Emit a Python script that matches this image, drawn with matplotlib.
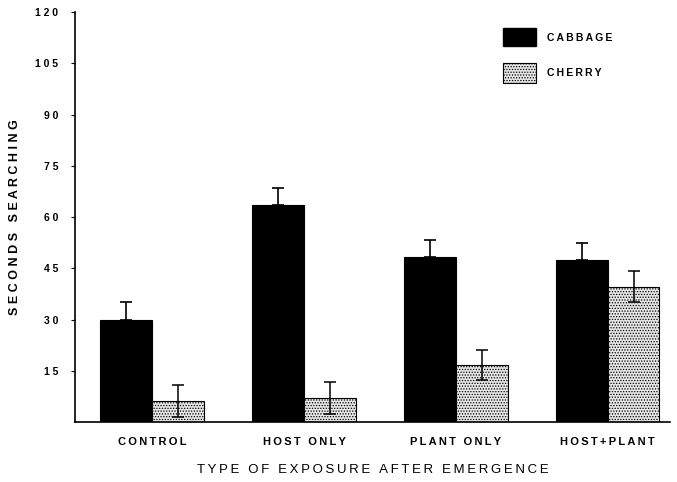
import matplotlib.pyplot as plt
import numpy as np

plt.rcParams['font.family'] = ['Liberation Sans', 'DejaVu Sans']
plt.rcParams['hatch.linewidth'] = 0.6

groups = ["CONTROL", "HOST ONLY", "PLANT ONLY", "HOST+PLANT"]
cabbage = [29.9, 63.5, 48.3, 47.4]
cabbage_err = [5.2, 5.0, 5.0, 5.0]
cherry = [6.2, 7.0, 16.7, 39.6]
cherry_err = [4.7, 4.6, 4.5, 4.6]
yticks = [15, 30, 45, 60, 75, 90, 105, 120]


def spaced(s, sep="\u2009"):
    # widen the letter spacing of a label
    return sep.join(s)


fig = plt.figure(figsize=(6.77, 4.82), dpi=100)
ax = fig.add_axes([0.1108, 0.1245, 0.879, 0.8505])

x = np.arange(len(groups))
w = 0.34
ax.bar(x - w / 2, cabbage, w, color="black", edgecolor="black", linewidth=0.8)
ax.errorbar(x - w / 2, cabbage, yerr=[np.zeros(len(cabbage)), cabbage_err],
            fmt="none", ecolor="black", elinewidth=1.2, capsize=4, capthick=1.2)
ax.bar(x + w / 2, cherry, w, color="#e6e6e6", edgecolor="black",
       hatch="......", linewidth=0.8)
ax.errorbar(x + w / 2, cherry, yerr=cherry_err, fmt="none", ecolor="black",
            elinewidth=1.1, capsize=4, capthick=1.1)

ax.set_xlim(-0.507, 3.41)
ax.set_ylim(0, 120)
ax.spines["top"].set_visible(False)
ax.spines["right"].set_visible(False)
ax.spines["left"].set_linewidth(1.2)
ax.spines["bottom"].set_linewidth(1.2)

ax.set_yticks(yticks)
ax.set_yticklabels([spaced(str(v), " ") for v in yticks], fontsize=7.5, fontweight="bold")
ax.tick_params(axis="y", length=3, width=0.8, pad=9)
ax.set_xticks(x)
ax.set_xticklabels([spaced(g) for g in groups], fontsize=8, fontweight="bold")
ax.tick_params(axis="x", length=0, pad=11)

ax.set_ylabel(spaced("SECONDS SEARCHING", " "), fontsize=9, fontweight="bold", labelpad=10)
ax.set_xlabel(spaced("TYPE OF EXPOSURE AFTER EMERGENCE", "\u2009"), fontsize=9.5,
              labelpad=12)

# legend drawn by hand as boxes with text
ax.add_patch(plt.Rectangle((0.719, 0.917), 0.0555, 0.044, transform=ax.transAxes,
                           facecolor="black", edgecolor="black", clip_on=False))
ax.add_patch(plt.Rectangle((0.719, 0.827), 0.0555, 0.049, transform=ax.transAxes,
                           facecolor="#e6e6e6", edgecolor="black", hatch="......",
                           linewidth=0.8, clip_on=False))
ax.text(0.793, 0.937, spaced("CABBAGE"), transform=ax.transAxes, fontsize=7.5,
        fontweight="bold", va="center")
ax.text(0.793, 0.851, spaced("CHERRY"), transform=ax.transAxes, fontsize=7.5,
        fontweight="bold", va="center")

fig.savefig("out.png", dpi=100)
